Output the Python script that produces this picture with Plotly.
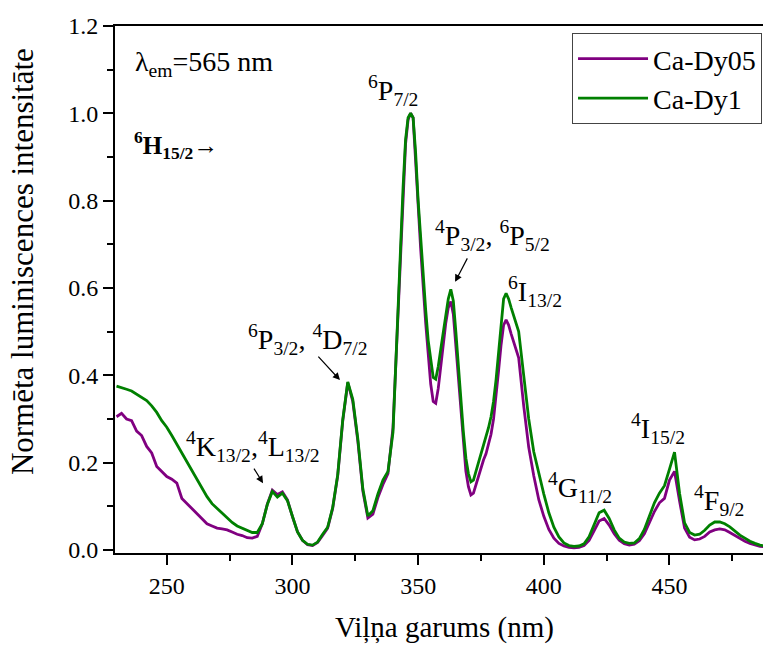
import plotly.graph_objects as go

wavelength = [
    230, 232, 234, 236, 238, 240, 242, 244, 246, 248, 250, 252, 254, 256, 258, 260,
    262, 264, 266, 268, 270, 272, 274, 276, 278, 280, 282, 284, 286, 288, 290, 292,
    294, 296, 298, 300, 302, 304, 306, 308, 310, 312, 314, 316, 318, 320, 322, 324,
    326, 328, 330, 332, 334, 336, 338, 340,
    342, 343, 344, 345, 346, 347, 348, 349, 350, 351, 352, 353, 354, 355, 356, 357,
    358, 359, 360, 361, 362, 363, 364, 365, 366, 367, 368, 369, 370, 371, 372, 373,
    374, 375, 376, 377, 378, 379, 380, 381, 382, 383, 384, 385, 386, 387, 388,
    390, 392, 394, 396, 398, 400, 402, 404, 406, 408, 410, 412, 414, 416, 418, 420,
    422, 424, 426, 428, 430, 432, 434, 436, 438, 440, 442, 444, 446, 448, 450, 452,
    454, 456, 458, 460, 462, 464, 466, 468, 470, 472, 474, 476, 478, 480, 482, 484,
    486, 488,
]

ca_dy05 = [
    0.305, 0.313, 0.300, 0.296, 0.272, 0.262, 0.237, 0.222, 0.191, 0.180, 0.168, 0.162, 0.153, 0.118, 0.106, 0.094,
    0.084, 0.071, 0.060, 0.055, 0.050, 0.048, 0.046, 0.041, 0.036, 0.033, 0.028, 0.027, 0.031, 0.060, 0.105, 0.137,
    0.127, 0.133, 0.115, 0.076, 0.042, 0.022, 0.012, 0.010, 0.017, 0.033, 0.050, 0.095, 0.170, 0.295, 0.383, 0.340,
    0.250, 0.135, 0.073, 0.082, 0.120, 0.150, 0.175, 0.280,
    0.550, 0.690, 0.820, 0.930, 0.985, 1.000, 0.990, 0.900, 0.790, 0.690, 0.600, 0.520, 0.450, 0.380, 0.340, 0.336,
    0.370, 0.420, 0.470, 0.520, 0.555, 0.569, 0.540, 0.470, 0.390, 0.310, 0.240, 0.180, 0.145, 0.126, 0.130, 0.150,
    0.170, 0.188, 0.206, 0.220, 0.240, 0.265, 0.300, 0.350, 0.410, 0.470, 0.515, 0.527, 0.515, 0.495, 0.475,
    0.440, 0.330, 0.235, 0.170, 0.115, 0.077, 0.047, 0.027, 0.015, 0.009, 0.006, 0.005, 0.006, 0.010, 0.022, 0.044,
    0.066, 0.072, 0.057, 0.037, 0.022, 0.014, 0.011, 0.013, 0.021, 0.037, 0.062, 0.088, 0.108, 0.118, 0.160, 0.180,
    0.112, 0.050, 0.029, 0.023, 0.025, 0.031, 0.041, 0.046, 0.048, 0.046, 0.040, 0.033, 0.026, 0.020, 0.015, 0.011,
    0.008, 0.007,
]

ca_dy1 = [
    0.375, 0.372, 0.368, 0.364, 0.356, 0.350, 0.342, 0.330, 0.315, 0.296, 0.281, 0.262, 0.242, 0.222, 0.200, 0.180,
    0.160, 0.139, 0.122, 0.106, 0.095, 0.085, 0.074, 0.063, 0.055, 0.050, 0.044, 0.040, 0.040, 0.060, 0.104, 0.134,
    0.121, 0.130, 0.113, 0.074, 0.041, 0.022, 0.013, 0.011, 0.018, 0.036, 0.052, 0.097, 0.172, 0.298, 0.385, 0.345,
    0.255, 0.140, 0.078, 0.090, 0.128, 0.160, 0.180, 0.270,
    0.530, 0.690, 0.830, 0.940, 0.990, 1.000, 0.990, 0.910, 0.800, 0.710, 0.620, 0.550, 0.480, 0.430, 0.395, 0.391,
    0.420, 0.460, 0.500, 0.540, 0.575, 0.597, 0.570, 0.500, 0.420, 0.340, 0.270, 0.210, 0.175, 0.156, 0.160, 0.180,
    0.200, 0.218, 0.237, 0.258, 0.280, 0.305, 0.340, 0.390, 0.450, 0.520, 0.575, 0.588, 0.575, 0.555, 0.535,
    0.500, 0.400, 0.300, 0.225, 0.175, 0.128, 0.085, 0.052, 0.030, 0.016, 0.010, 0.008, 0.009, 0.014, 0.030, 0.057,
    0.085, 0.091, 0.072, 0.046, 0.027, 0.018, 0.015, 0.016, 0.026, 0.047, 0.078, 0.108, 0.130, 0.147, 0.185, 0.224,
    0.130, 0.062, 0.040, 0.034, 0.036, 0.045, 0.057, 0.064, 0.064, 0.060, 0.053, 0.043, 0.034, 0.027, 0.020, 0.015,
    0.011, 0.009,
]

x_ticks = [250, 300, 350, 400, 450]
y_ticks = [0.0, 0.2, 0.4, 0.6, 0.8, 1.0, 1.2]
y_tick_labels = ["0.0", "0.2", "0.4", "0.6", "0.8", "1.0", "1.2"]

FONT = "'Liberation Serif', 'Times New Roman', Times, 'DejaVu Serif', 'Noto Serif', FreeSerif, serif"

fig = go.Figure()
fig.add_trace(go.Scatter(x=wavelength, y=ca_dy05, mode="lines", name="Ca-Dy05",
                         line=dict(color="#800080", width=2.8)))
fig.add_trace(go.Scatter(x=wavelength, y=ca_dy1, mode="lines", name="Ca-Dy1",
                         line=dict(color="#008000", width=2.8)))

labels = [
    ("λ<sub>em</sub>=565 nm", 236.6, 1.113, "left", 28),
    ("<b><sup>6</sup>H<sub>15/2</sub></b>→", 236.2, 0.927, "left", 25),
    ("<sup>6</sup>P<sub>7/2</sub>", 340.0, 1.053, "center", 28),
    ("<sup>4</sup>P<sub>3/2</sub>, <sup>6</sup>P<sub>5/2</sub>", 379.4, 0.721, "center", 28),
    ("<sup>6</sup>I<sub>13/2</sub>", 396.5, 0.591, "center", 28),
    ("<sup>6</sup>P<sub>3/2</sub>, <sup>4</sup>D<sub>7/2</sub>", 306.2, 0.481, "center", 28),
    ("<sup>4</sup>K<sub>13/2</sub>,<sup>4</sup>L<sub>13/2</sub>", 284.3, 0.236, "center", 28),
    ("<sup>4</sup>G<sub>11/2</sub>", 414.4, 0.142, "center", 28),
    ("<sup>4</sup>I<sub>15/2</sub>", 445.4, 0.279, "center", 28),
    ("<sup>4</sup>F<sub>9/2</sub>", 469.7, 0.114, "center", 28),
]
for text, x, y, anchor, size in labels:
    fig.add_annotation(x=x, y=y, text=text, showarrow=False, xanchor=anchor, yanchor="middle",
                       font=dict(family=FONT, size=size, color="black"))

arrows = [
    (364.7, 0.614, 13, -25),
    (318.9, 0.389, -23, -25),
    (288.3, 0.153, -10, -16),
]
for x, y, ax, ay in arrows:
    fig.add_annotation(x=x, y=y, ax=ax, ay=ay, text="", showarrow=True, arrowhead=2,
                       arrowsize=1.2, arrowwidth=1.2, arrowcolor="black", standoff=0)

fig.add_annotation(xref="paper", yref="paper", x=-0.1435, y=0.552, text="Normēta luminiscences intensitāte",
                   textangle=-90, showarrow=False, xanchor="center", yanchor="middle",
                   font=dict(family=FONT, size=31, color="black"))
fig.add_annotation(xref="paper", yref="paper", x=0.508, y=-0.142, text="Viļņa garums (nm)",
                   showarrow=False, xanchor="center", yanchor="middle",
                   font=dict(family=FONT, size=29, color="black"))

fig.update_layout(
    width=763, height=646,
    margin=dict(l=115, r=0, t=26, b=93),
    paper_bgcolor="white", plot_bgcolor="white",
    font=dict(family=FONT, size=24, color="black"),
    legend=dict(x=0.9985, y=0.9867, xanchor="right", yanchor="top",
                bordercolor="#444", borderwidth=1, bgcolor="white",
                font=dict(family=FONT, size=28, color="black"),
                itemwidth=70, tracegroupgap=0),
    showlegend=True,
)
fig.update_xaxes(
    range=[229.4, 487.2], showgrid=False, zeroline=False, automargin=False,
    showline=True, linecolor="black", linewidth=2, mirror=True,
    ticks="outside", ticklen=10, tickwidth=2, tickcolor="black",
    tickvals=x_ticks, tickfont=dict(family=FONT, size=24),
    minor=dict(dtick=25, tick0=225, ticks="outside", ticklen=6, tickwidth=2, tickcolor="black"),
)
fig.update_yaxes(
    range=[-0.007, 1.2], showgrid=False, zeroline=False, automargin=False,
    showline=True, linecolor="black", linewidth=2,
    ticks="outside", ticklen=10, tickwidth=2, tickcolor="black",
    tickvals=y_ticks, ticktext=y_tick_labels, tickfont=dict(family=FONT, size=24),
    minor=dict(dtick=0.1, tick0=0, ticks="outside", ticklen=6, tickwidth=2, tickcolor="black"),
)

fig.write_html("out.html", config={"displayModeBar": False},
               post_script="document.body.style.margin='0px';")
